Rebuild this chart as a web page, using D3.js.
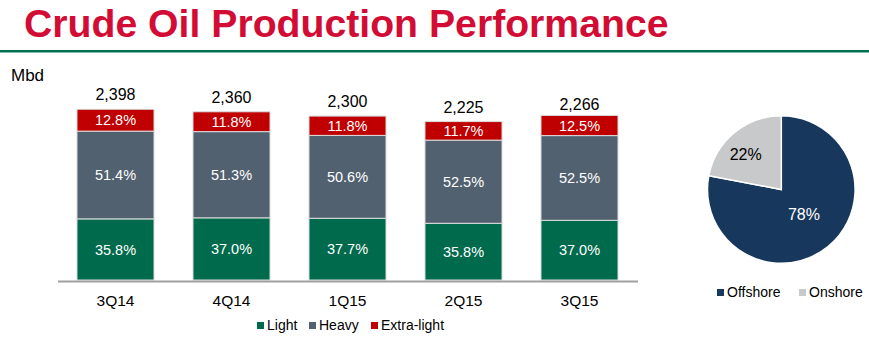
<!DOCTYPE html>
<html>
<head>
<meta charset="utf-8">
<script src="https://cdn.jsdelivr.net/npm/d3@7"></script>
<style>
  body { margin: 0; background: #fff; }
  svg { display: block; font-family: "Liberation Sans", Arial, sans-serif; }
</style>
</head>
<body>
<div id="chart"></div>
<script>
// quarterly production data
const quarters = ["3Q14", "4Q14", "1Q15", "2Q15", "3Q15"];
const totals = [2398, 2360, 2300, 2225, 2266];
const lightPct = [35.8, 37.0, 37.7, 35.8, 37.0];
const heavyPct = [51.4, 51.3, 50.6, 52.5, 52.5];
const extraLightPct = [12.8, 11.8, 11.8, 11.7, 12.5];
const seriesNames = ["Light", "Heavy", "Extra-light"];

// location split
const locations = ["Offshore", "Onshore"];
const locationPct = [78, 22];

const width = 869, height = 339;
const colors = { "Light": "#006a4d", "Heavy": "#526170", "Extra-light": "#c00000" };
const pieColors = { "Offshore": "#17385c", "Onshore": "#c8c9cb" };

const svg = d3.select("#chart").append("svg")
    .attr("width", width)
    .attr("height", height);

// title + rule
svg.append("text")
    .attr("x", 24)
    .attr("y", 37)
    .attr("font-size", 39.2)
    .attr("font-weight", "bold")
    .attr("fill", "#d20c34")
    .text("Crude Oil Production Performance");

svg.append("rect")
    .attr("x", 0).attr("y", 50)
    .attr("width", width).attr("height", 2.5)
    .attr("fill", "#00704f");

svg.append("text")
    .attr("x", 11).attr("y", 81)
    .attr("font-size", 17)
    .attr("fill", "#000")
    .text("Mbd");

// stacked bars
const x = d3.scaleBand()
    .domain(quarters)
    .range([57.5, 637.5])
    .paddingInner(0.336)
    .paddingOuter(0.168);

const y = d3.scaleLinear()
    .domain([0, 2500])
    .range([280, 102]);

const rows = quarters.map((q, i) => ({
    quarter: q,
    total: totals[i],
    "Light": lightPct[i],
    "Heavy": heavyPct[i],
    "Extra-light": extraLightPct[i]
}));

const stack = d3.stack().keys(seriesNames)(rows);

const segs = svg.append("g");
stack.forEach(layer => {
    const key = layer.key;
    const g = segs.append("g");
    layer.forEach(d => {
        const t = d.data.total;
        const y0 = y(t * d[0] / 100);
        const y1 = y(t * d[1] / 100);
        g.append("rect")
            .attr("x", x(d.data.quarter))
            .attr("y", y1)
            .attr("width", x.bandwidth())
            .attr("height", y0 - y1)
            .attr("fill", colors[key])
            .attr("stroke", "#dcdcdc")
            .attr("stroke-width", 1);
        g.append("text")
            .attr("x", x(d.data.quarter) + x.bandwidth() / 2)
            .attr("y", (y0 + y1) / 2)
            .attr("dy", "0.36em")
            .attr("text-anchor", "middle")
            .attr("font-size", 14.5)
            .attr("fill", "#fff")
            .text(d.data[key].toFixed(1) + "%");
    });
});

// totals on top
svg.append("g")
    .selectAll("text")
    .data(rows)
    .join("text")
    .attr("x", d => x(d.quarter) + x.bandwidth() / 2)
    .attr("y", d => y(d.total) - 9)
    .attr("text-anchor", "middle")
    .attr("font-size", 16)
    .attr("fill", "#000")
    .text(d => d3.format(",")(d.total));

// x axis
const xAxis = svg.append("g")
    .attr("transform", "translate(0,281)")
    .call(d3.axisBottom(x).tickSize(0).tickPadding(14));
xAxis.select(".domain").attr("stroke", "#a0a0a0").attr("stroke-width", 2);
xAxis.selectAll(".tick text")
    .attr("font-size", 15.5)
    .attr("font-family", "Liberation Sans, Arial, sans-serif")
    .attr("fill", "#000");

// bar legend
const legendX = [257, 309, 371];
const legend = svg.append("g");
seriesNames.forEach((s, i) => {
    legend.append("rect")
        .attr("x", legendX[i]).attr("y", 322)
        .attr("width", 7).attr("height", 7)
        .attr("fill", colors[s]);
    legend.append("text")
        .attr("x", legendX[i] + 10).attr("y", 330)
        .attr("font-size", 14)
        .attr("fill", "#000")
        .text(s);
});

// pie
const pieData = locations.map((l, i) => ({ name: l, value: locationPct[i] }));
const pie = d3.pie().sort(null).value(d => d.value);
const r = 73.8;
const arc = d3.arc().innerRadius(0).outerRadius(r);
const pg = svg.append("g").attr("transform", "translate(781.3,189.5)");
pg.selectAll("path")
    .data(pie(pieData))
    .join("path")
    .attr("d", arc)
    .attr("fill", d => pieColors[d.data.name])
    .attr("stroke", "#fff")
    .attr("stroke-width", 1.5);

const labelPos = { "Offshore": [22.7, 25.2], "Onshore": [-35.6, -35.5] };
pg.selectAll("text")
    .data(pie(pieData))
    .join("text")
    .attr("x", d => labelPos[d.data.name][0])
    .attr("y", d => labelPos[d.data.name][1])
    .attr("dy", "0.36em")
    .attr("text-anchor", "middle")
    .attr("font-size", 16)
    .attr("fill", d => d.data.name === "Offshore" ? "#fff" : "#000")
    .text(d => d.data.value + "%");

// pie legend
const pieLegendX = [717, 799];
locations.forEach((l, i) => {
    svg.append("rect")
        .attr("x", pieLegendX[i]).attr("y", 289)
        .attr("width", 7).attr("height", 7)
        .attr("fill", pieColors[l]);
    svg.append("text")
        .attr("x", pieLegendX[i] + 10).attr("y", 297)
        .attr("font-size", 14)
        .attr("fill", "#000")
        .text(l);
});
</script>
</body>
</html>
